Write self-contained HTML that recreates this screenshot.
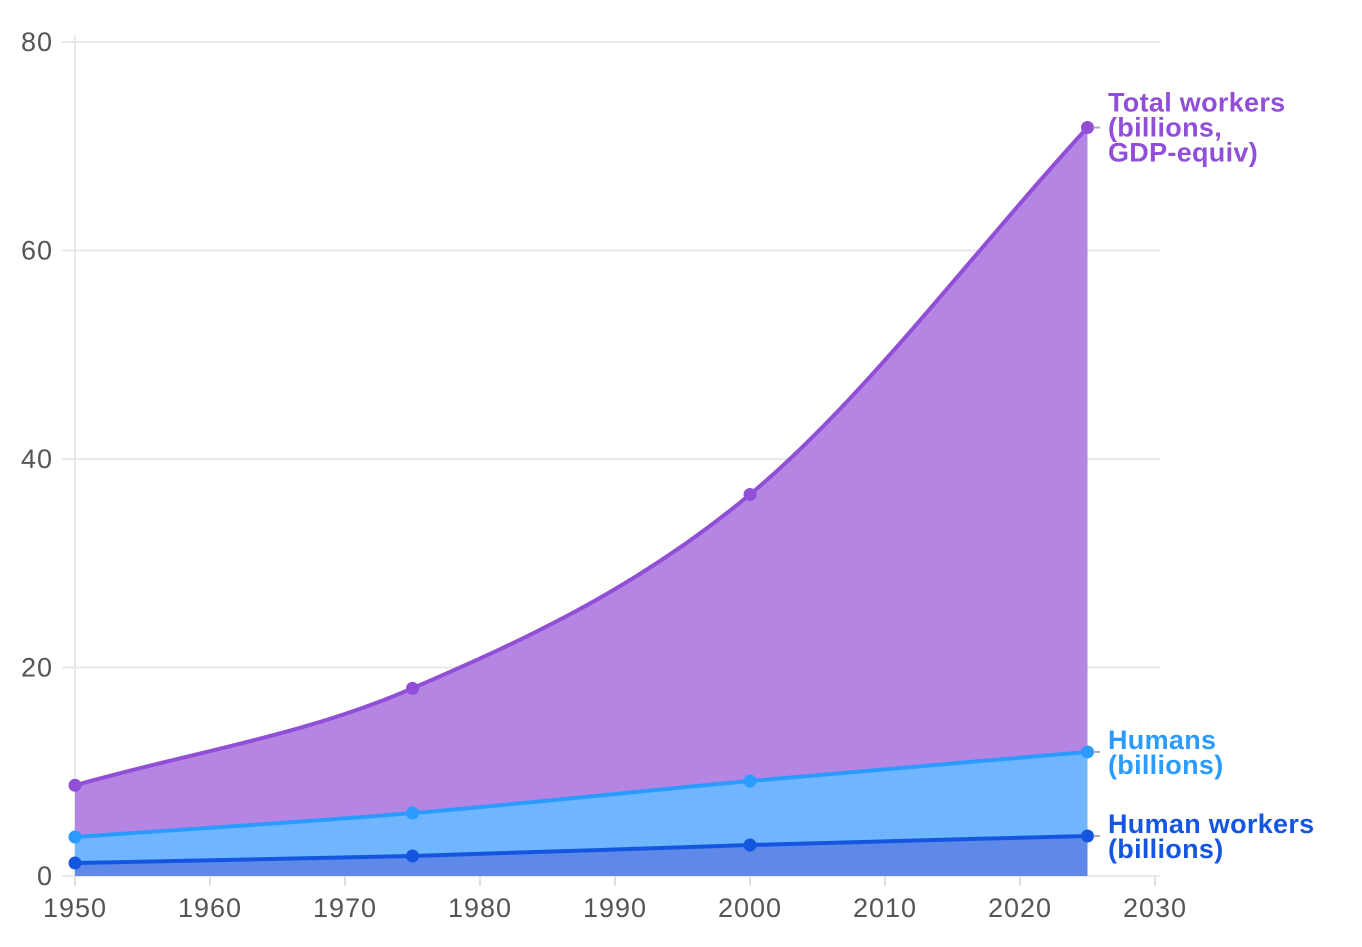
<!DOCTYPE html>
<html><head><meta charset="utf-8"><style>
body{margin:0;background:#fff}
svg text{font-family:"Liberation Sans",sans-serif}
</style></head><body>
<svg id="chart" width="1362" height="942" xmlns="http://www.w3.org/2000/svg"></svg>
<script>
const years=[1950,1975,2000,2025];
const totalWorkers=[8.7,18.0,36.6,71.8];
const humans=[3.74,6.04,9.11,11.9];
const humanWorkers=[1.25,1.92,2.97,3.84];
const xTicks=[1950,1960,1970,1980,1990,2000,2010,2020,2030];
const yTicks=[0,20,40,60,80];
const seriesNames=[["Total workers","(billions,","GDP-equiv)"],["Humans","(billions)"],["Human workers","(billions)"]];

const svg=document.getElementById('chart');
const NS='http://www.w3.org/2000/svg';
const x=v=>75+(v-1950)*13.5;
const y=v=>876-v*10.425;
function mk(t,a,p){const e=document.createElementNS(NS,t);for(const k in a)e.setAttribute(k,a[k]);(p||svg).appendChild(e);return e;}

yTicks.forEach(t=>{
 const g=mk('line',{x1:62,x2:1160,y1:y(t),y2:y(t),stroke:'#e8e8e8','stroke-width':2});
 
 
 const l=mk('text',{x:53,y:y(t)+9,'text-anchor':'end','font-size':27,'letter-spacing':1,fill:'#555'});
 l.textContent=t;
 
 
});
const ax=mk('line',{x1:75,x2:75,y1:35,y2:876,stroke:'#e8e8e8','stroke-width':2});


xTicks.forEach(t=>{
 const tk=mk('line',{x1:x(t),x2:x(t),y1:876,y2:886,stroke:'#e0e0e0','stroke-width':2});
 
 
 const l=mk('text',{x:x(t),y:917,'text-anchor':'middle','font-size':27,'letter-spacing':1,fill:'#555'});
 l.textContent=t;
 
 
});

function monotone(xs,ys){
 const n=xs.length,d=[],m=[];
 for(let i=0;i<n-1;i++)d.push((ys[i+1]-ys[i])/(xs[i+1]-xs[i]));
 for(let i=0;i<n;i++){
  if(i==0)m.push(d[0]);else if(i==n-1)m.push(d[n-2]);
  else m.push(d[i-1]*d[i]<=0?0:(d[i-1]+d[i])/2);
 }
 let s=`M${xs[0]},${ys[0]}`;
 for(let i=0;i<n-1;i++){const h=(xs[i+1]-xs[i])/3;
  s+=` C${xs[i]+h},${ys[i]+m[i]*h} ${xs[i+1]-h},${ys[i+1]-m[i+1]*h} ${xs[i+1]},${ys[i+1]}`;}
 return s;
}
const series=[
 {v:totalWorkers,line:'#914fd8',fill:'#b585e4',name:'total-workers'},
 {v:humans,line:'#2b9bff',fill:'#6fb5ff',name:'humans'},
 {v:humanWorkers,line:'#1556e0',fill:'#5f89e8',name:'human-workers'}
];
const xs=years.map(x);
series.forEach(s=>{
 const ys=s.v.map(y);
 const p=monotone(xs,ys);
 const a=mk('path',{d:p+` L${xs[xs.length-1]},876 L${xs[0]},876 Z`,fill:s.fill});
 
 
});
series.forEach((s,si)=>{
 const ys=s.v.map(y);
 const l=mk('path',{d:monotone(xs,ys),fill:'none',stroke:s.line,'stroke-width':4});
 
 
 ys.forEach((yy,i)=>{
  const c=mk('circle',{cx:xs[i],cy:yy,r:6.5,fill:s.line});
  
  
 });
 const ly=ys[ys.length-1];
 const cn=mk('line',{x1:xs[xs.length-1]+6,x2:1100,y1:ly,y2:ly,stroke:'#aaa','stroke-width':2});
 
 
 const lines=seriesNames[si];
 const start=si==0?ly-25:ly-12;
 lines.forEach((t,j)=>{
  const tx=mk('text',{x:1108,y:start+j*25+9,'font-size':27,'letter-spacing':0.3,'font-weight':'bold',fill:s.line});
  tx.textContent=t;
  
  
 });
});
</script>
</body></html>
